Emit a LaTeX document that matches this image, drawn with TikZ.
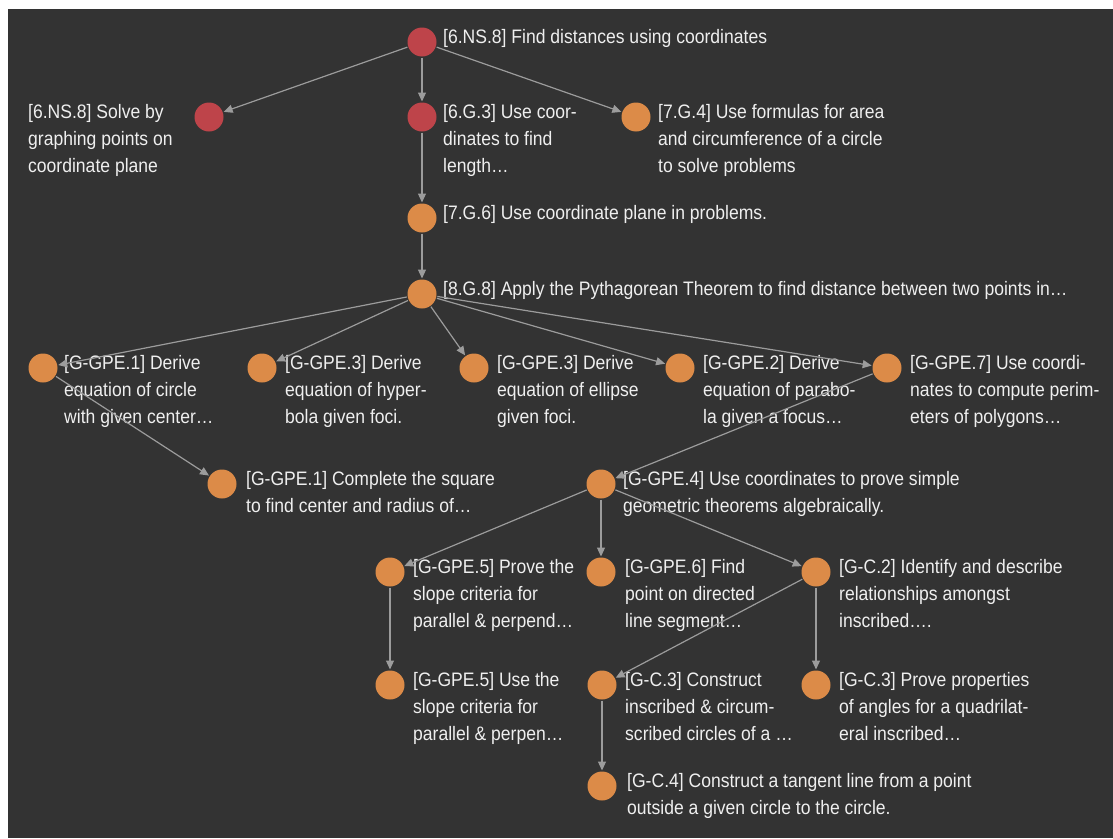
\documentclass[tikz,border=0pt]{standalone}
\usepackage{fontspec}
\setmainfont[FakeStretch=0.9]{Liberation Sans}
\usetikzlibrary{arrows.meta}
\definecolor{bgdark}{HTML}{333333}
\definecolor{nodered}{HTML}{BE444A}
\definecolor{nodeorange}{HTML}{DC8B48}
\definecolor{edgegray}{HTML}{9C9C9C}
\definecolor{txtcol}{HTML}{EFEFEF}
\begin{document}
\begin{tikzpicture}[x=1pt,y=-1pt,
  dot/.style={circle,minimum size=29pt,inner sep=0pt,outer sep=1pt,fill=nodeorange},
  rdot/.style={dot,fill=nodered},
  lab/.style={anchor=north west,inner sep=0pt,align=left,text=txtcol,font=\fontsize{19.5}{27}\selectfont},
  conn/.style={draw=edgegray,line width=1.2pt,-{Triangle[length=9pt,width=8pt]}}]
\useasboundingbox (0,0) rectangle (1113,838);
\fill[white] (0,0) rectangle (1113,838);
\fill[bgdark] (8,9) rectangle (1113,838);
% nodes
\node[rdot] (A) at (422,42) {};
\node[rdot] (B) at (209,117) {};
\node[rdot] (C) at (422,117) {};
\node[dot] (D) at (636,117) {};
\node[dot] (E) at (422,218) {};
\node[dot] (F) at (422,294) {};
\node[dot] (G1) at (43,368) {};
\node[dot] (G2) at (262,368) {};
\node[dot] (G3) at (474,368) {};
\node[dot] (G4) at (680,368) {};
\node[dot] (G5) at (887,368) {};
\node[dot] (H) at (222,484) {};
\node[dot] (I) at (601,484) {};
\node[dot] (J) at (390,572) {};
\node[dot] (K) at (601,572) {};
\node[dot] (L) at (816,572) {};
\node[dot] (M) at (390,685) {};
\node[dot] (N) at (602,685) {};
\node[dot] (O) at (816,685) {};
\node[dot] (P) at (602,786) {};
% labels
\node[lab] (tA) at (443,29) {[6.NS.8] Find distances using coordinates};
\node[lab] (tB) at (28,104) {[6.NS.8] Solve by\\graphing points on\\coordinate plane};
\node[lab] (tC) at (443,104) {[6.G.3] Use coor-\\dinates to find\\length…};
\node[lab] (tD) at (658,104) {[7.G.4] Use formulas for area\\and circumference of a circle\\to solve problems};
\node[lab] (tE) at (443,205) {[7.G.6] Use coordinate plane in problems.};
\node[lab] (tF) at (443,281) {[8.G.8] Apply the Pythagorean Theorem to find distance between two points in…};
\node[lab] (tG1) at (64,355) {[G-GPE.1] Derive\\equation of circle\\with given center…};
\node[lab] (tG2) at (285,355) {[G-GPE.3] Derive\\equation of hyper-\\bola given foci.};
\node[lab] (tG3) at (497,355) {[G-GPE.3] Derive\\equation of ellipse\\given foci.};
\node[lab] (tG4) at (703,355) {[G-GPE.2] Derive\\equation of parabo-\\la given a focus…};
\node[lab] (tG5) at (910,355) {[G-GPE.7] Use coordi-\\nates to compute perim-\\eters of polygons…};
\node[lab] (tH) at (246,471) {[G-GPE.1] Complete the square\\to find center and radius of…};
\node[lab] (tI) at (623,471) {[G-GPE.4] Use coordinates to prove simple\\geometric theorems algebraically.};
\node[lab] (tJ) at (413,559) {[G-GPE.5] Prove the\\slope criteria for\\parallel \& perpend…};
\node[lab] (tK) at (625,559) {[G-GPE.6] Find\\point on directed\\line segment…};
\node[lab] (tL) at (839,559) {[G-C.2] Identify and describe\\relationships amongst\\inscribed….};
\node[lab] (tM) at (413,672) {[G-GPE.5] Use the\\slope criteria for\\parallel \& perpen…};
\node[lab] (tN) at (625,672) {[G-C.3] Construct\\inscribed \& circum-\\scribed circles of a …};
\node[lab] (tO) at (839,672) {[G-C.3] Prove properties\\of angles for a quadrilat-\\eral inscribed…};
\node[lab] (tP) at (627,773) {[G-C.4] Construct a tangent line from a point\\outside a given circle to the circle.};
% edges
\draw[conn] (A) -- (B);
\draw[conn] (A) -- (C);
\draw[conn] (A) -- (D);
\draw[conn] (C) -- (E);
\draw[conn] (E) -- (F);
\draw[conn] (F) -- (G1);
\draw[conn] (F) -- (G2);
\draw[conn] (F) -- (G3);
\draw[conn] (F) -- (G4);
\draw[conn] (F) -- (G5);
\draw[conn] (G1) -- (H);
\draw[conn] (G5) -- (I);
\draw[conn] (I) -- (J);
\draw[conn] (I) -- (K);
\draw[conn] (I) -- (L);
\draw[conn] (J) -- (M);
\draw[conn] (L) -- (N);
\draw[conn] (L) -- (O);
\draw[conn] (N) -- (P);
\end{tikzpicture}
\end{document}
